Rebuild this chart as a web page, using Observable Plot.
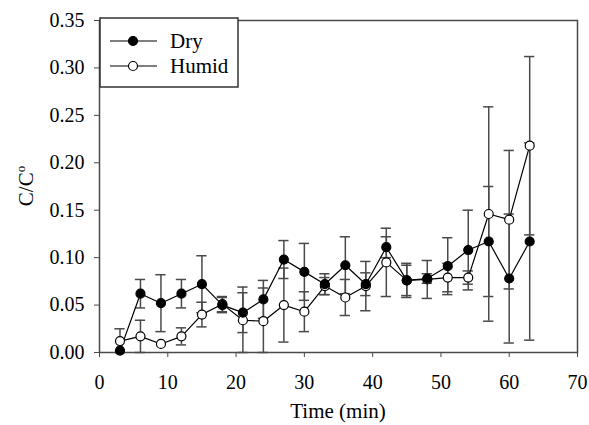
<!DOCTYPE html>
<html>
<head>
<meta charset="utf-8">
<script src="https://cdn.jsdelivr.net/npm/d3@7"></script>
<script src="https://cdn.jsdelivr.net/npm/@observablehq/plot@0.6"></script>
<style>
  html, body { margin: 0; padding: 0; background: white; }
  #chart { width: 589px; height: 425px; }
  #chart svg, #chart svg text { font-family: "Liberation Serif", "Tinos", "Times New Roman", "DejaVu Serif", serif !important; font-weight: normal; }
</style>
</head>
<body>
<div id="chart"></div>
<script>
const time = [3, 6, 9, 12, 15, 18, 21, 24, 27, 30, 33, 36, 39, 42, 45, 48, 51, 54, 57, 60, 63];
const dry = [0.002, 0.062, 0.052, 0.062, 0.072, 0.050, 0.042, 0.056, 0.098, 0.085, 0.072, 0.092, 0.072, 0.111, 0.076, 0.078, 0.091, 0.108, 0.117, 0.078, 0.117];
const dryErr = [0, 0.015, 0.030, 0.015, 0.030, 0.008, 0.021, 0.020, 0.020, 0.030, 0.011, 0.030, 0.012, 0.011, 0.016, 0.005, 0.030, 0.042, 0.058, 0.068, 0.104];
const humid = [0.012, 0.017, 0.009, 0.017, 0.040, 0.051, 0.034, 0.033, 0.050, 0.043, 0.070, 0.058, 0.070, 0.095, 0.076, 0.077, 0.079, 0.079, 0.146, 0.140, 0.218];
const humidErr = [0.013, 0.017, 0, 0.009, 0.013, 0.008, 0.035, 0.035, 0.039, 0.021, 0.009, 0.019, 0.026, 0.036, 0.018, 0.020, 0.015, 0.007, 0.113, 0.073, 0.094];
const xTicks = [0, 10, 20, 30, 40, 50, 60, 70];
const yTicks = [0, 0.05, 0.10, 0.15, 0.20, 0.25, 0.30, 0.35];
const seriesNames = ["Dry", "Humid"];
const xLabel = "Time (min)";

const rows = [];
time.forEach((t, i) => {
  rows.push({t, v: dry[i], e: dryErr[i], s: "Dry"});
  rows.push({t, v: humid[i], e: humidErr[i], s: "Humid"});
});
const bars = rows.filter(d => d.e > 0);
const caps = [];
bars.forEach(d => {
  caps.push({t: d.t, y: d.v + d.e});
  caps.push({t: d.t, y: Math.max(0, d.v - d.e)});
});
const capHalf = 0.75;
const gray = "#4a4a4a";

const plot = Plot.plot({
  width: 589,
  height: 425,
  marginLeft: 99,
  marginRight: 12,
  marginTop: 20,
  marginBottom: 73,
  style: {fontSize: "20px", color: "black", background: "white"},
  x: {domain: [0, 70]},
  y: {domain: [0, 0.35]},
  marks: [
    Plot.frame({stroke: gray, strokeWidth: 1.5}),
    Plot.axisX({ticks: xTicks, tickSize: 5, tickPadding: 17, label: null, stroke: gray, fontSize: 20}),
    Plot.axisY({ticks: yTicks, tickSize: 5, tickPadding: 10, tickFormat: d3.format(".2f"), label: null, stroke: gray, fontSize: 20}),
    Plot.ruleX(bars, {x: "t", y1: d => Math.max(0, d.v - d.e), y2: d => d.v + d.e, stroke: gray, strokeWidth: 1.5}),
    Plot.ruleY(caps, {y: "y", x1: d => d.t - capHalf, x2: d => d.t + capHalf, stroke: gray, strokeWidth: 1.5}),
    Plot.line(rows.filter(d => d.s === "Dry"), {x: "t", y: "v", stroke: "black", strokeWidth: 1.2}),
    Plot.line(rows.filter(d => d.s === "Humid"), {x: "t", y: "v", stroke: "black", strokeWidth: 1.2}),
    Plot.dot(rows.filter(d => d.s === "Humid"), {x: "t", y: "v", r: 4.5, fill: "white", stroke: "black", strokeWidth: 1.2}),
    Plot.dot(rows.filter(d => d.s === "Dry"), {x: "t", y: "v", r: 4.5, fill: "black", stroke: "black", strokeWidth: 1.2})
  ]
});

const svg = d3.select(plot);
// axis labels
svg.append("text")
  .attr("x", 338).attr("y", 418)
  .attr("text-anchor", "middle")
  .attr("font-size", 21)
  .attr("fill", "black")
  .text(xLabel);
const yl = svg.append("text")
  .attr("transform", "translate(33,186) rotate(-90)")
  .attr("text-anchor", "middle")
  .attr("font-size", 21)
  .attr("fill", "black");
yl.append("tspan").text("C/C");
yl.append("tspan").attr("dy", -8).attr("font-size", 13).text("o");

// legend
const lg = svg.append("g");
lg.append("rect").attr("x", 100).attr("y", 18).attr("width", 138).attr("height", 69)
  .attr("fill", "white").attr("stroke", "#333").attr("stroke-width", 1.5);
seriesNames.forEach((name, i) => {
  const y = 41 + i * 25;
  lg.append("line").attr("x1", 110).attr("x2", 157).attr("y1", y).attr("y2", y)
    .attr("stroke", "black").attr("stroke-width", 1.2);
  lg.append("circle").attr("cx", 133).attr("cy", y).attr("r", 4.5)
    .attr("fill", name === "Dry" ? "black" : "white").attr("stroke", "black").attr("stroke-width", 1.2);
  lg.append("text").attr("x", 170).attr("y", y + 7).attr("text-anchor", "start")
    .attr("font-size", 21).attr("fill", "black").text(name);
});

document.getElementById("chart").appendChild(plot);
</script>
</body>
</html>
